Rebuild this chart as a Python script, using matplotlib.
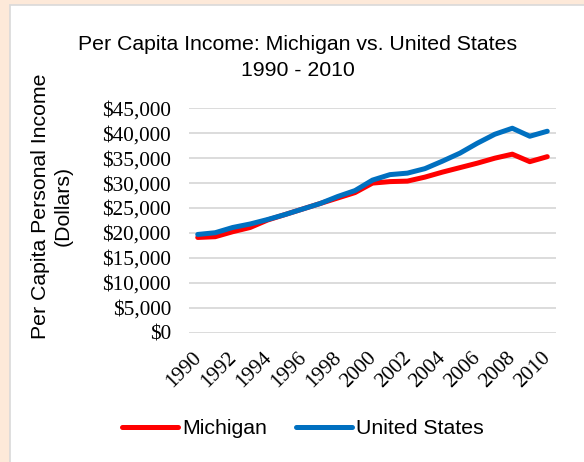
import numpy as np
import matplotlib
matplotlib.use("Agg")
import matplotlib.pyplot as plt
import matplotlib.transforms as mtransforms
from matplotlib.patches import Rectangle
from matplotlib.ticker import FuncFormatter

### Donnees

years = list(range(1990, 2011))
michigan = [19100, 19250, 20250, 21100, 22600, 23700, 24800, 25900, 27000, 28100,
            30000, 30300, 30400, 31200, 32200, 33100, 34000, 35000, 35800, 34300, 35300]
united_states = [19700, 20050, 21100, 21800, 22700, 23700, 24800, 25900, 27300, 28500,
                 30600, 31700, 32000, 32900, 34400, 36000, 38000, 39800, 41000, 39400, 40400]
tick_years = [str(y) for y in years[::2]]

### Couleurs

rouge = '#FF0000'
bleu = '#0070C0'
gris = '#D9D9D9'
creme = '#FDE9D9'

sans = ['Liberation Sans', 'DejaVu Sans']
serif = ['Liberation Serif', 'DejaVu Serif']
fs = 15.3

fig = plt.figure(figsize=(5.84, 4.62), dpi=100, facecolor=creme)
W, H = 584, 462

# cadre blanc du graphique
fig.patches.append(Rectangle((10 / W, -0.05), 1.0, 1 - 5 / H + 0.05,
                             transform=fig.transFigure, facecolor='white',
                             edgecolor=gris, linewidth=1.2, zorder=-10))

ax = fig.add_axes([189 / W, 1 - 332.7 / H, 367 / W, 224.4 / H])
ax.set_facecolor('none')

x = np.arange(len(years))
ax.plot(x, michigan, color=rouge, lw=3.6, solid_capstyle='round',
        solid_joinstyle='round', label='Michigan', zorder=3)
ax.plot(x, united_states, color=bleu, lw=3.6, solid_capstyle='round',
        solid_joinstyle='round', label='United States', zorder=4)

ax.set_xlim(-0.5, len(years) - 0.5)
ax.set_ylim(0, 45000)
ax.set_yticks(np.arange(0, 45001, 5000))
ax.yaxis.set_major_formatter(FuncFormatter(lambda v, p: '${:,.0f}'.format(v)))
ax.set_xticks(x[::2])
ax.set_xticklabels(tick_years, rotation=45, ha='right', va='top',
                   rotation_mode='anchor')
for lab in ax.get_xticklabels() + ax.get_yticklabels():
    lab.set_family(serif)
    lab.set_fontsize(fs)
    lab.set_color('#000000')
ax.tick_params(axis='both', length=0)
ax.tick_params(axis='x', pad=11)
ax.tick_params(axis='y', pad=13)

# petit decalage des annees vers la gauche
decal = mtransforms.ScaledTranslation(-0.06, 0.0, fig.dpi_scale_trans)
for lab in ax.get_xticklabels():
    lab.set_transform(lab.get_transform() + decal)

ax.grid(axis='y', color=gris, lw=1.3)
ax.set_axisbelow(True)
for s in ax.spines.values():
    s.set_visible(False)

fig.text(298 / W, 1 - 57.5 / H, 'Per Capita Income: Michigan vs. United States\n1990 - 2010',
         ha='center', va='center', family=sans, fontsize=fs, linespacing=1.45)

fig.text(52 / W, 1 - 206 / H, 'Per Capita Personal Income\n(Dollars)',
         ha='center', va='center', rotation=90, family=sans, fontsize=fs,
         linespacing=1.2, multialignment='center')

leg = fig.legend(loc='center', bbox_to_anchor=(303 / W, 1 - 429 / H), ncol=2,
                 frameon=False, handlelength=2.6, handletextpad=0.2,
                 columnspacing=1.4, prop={'family': sans, 'size': fs})

fig.savefig('out.png', dpi=100, facecolor=creme)
